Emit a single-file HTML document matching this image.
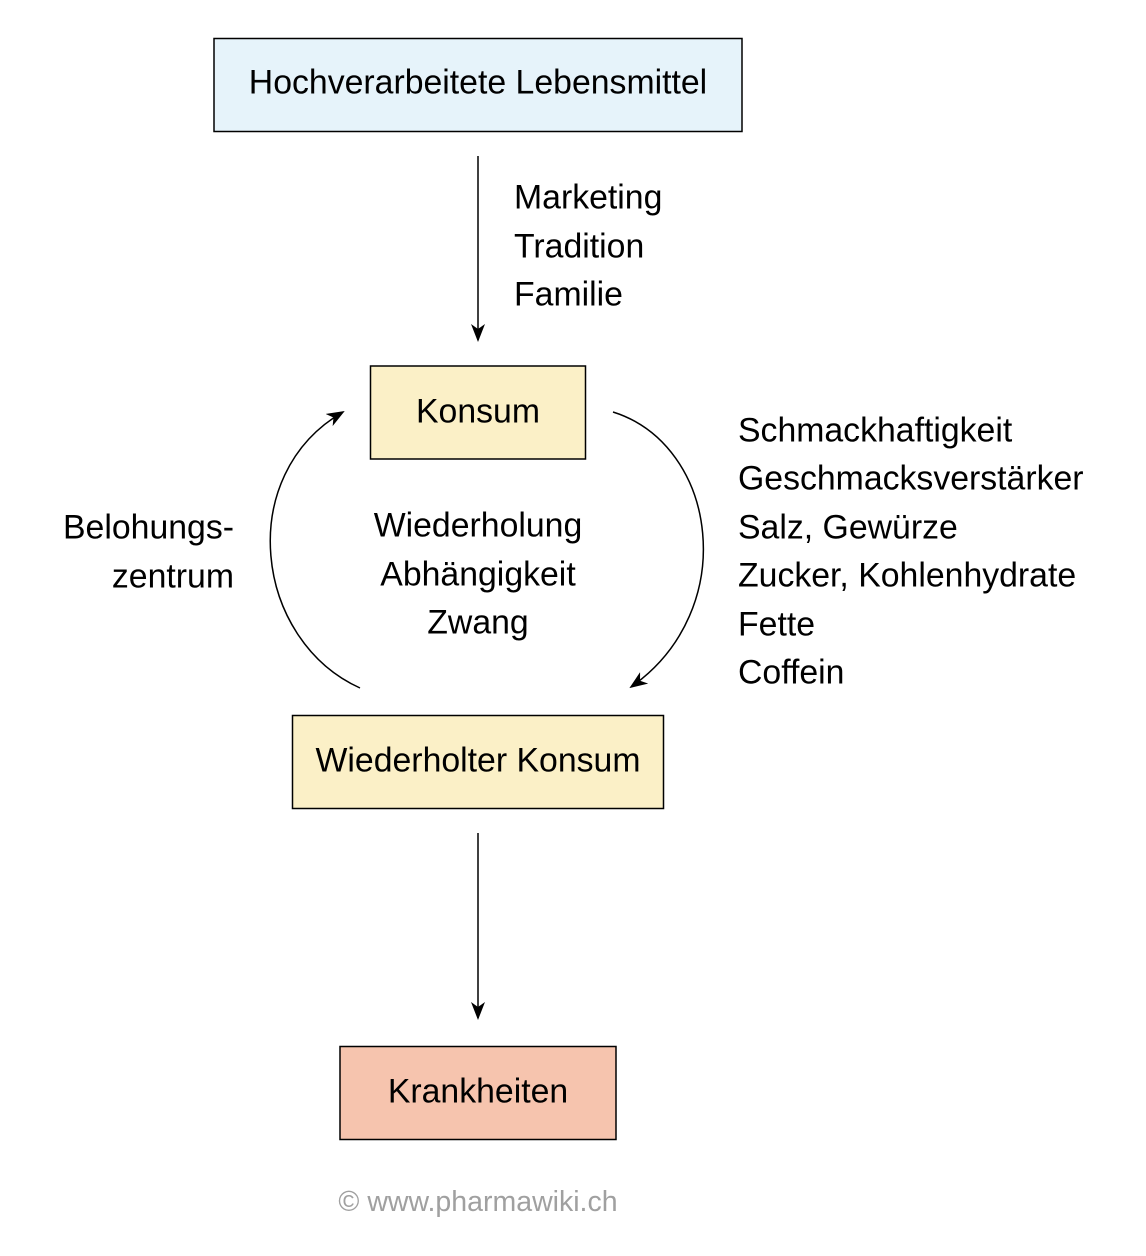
<!DOCTYPE html>
<html><head><meta charset="utf-8"><style>
html,body{margin:0;padding:0;background:#fff;}
svg{display:block;font-family:"Liberation Sans",Arial,sans-serif;}
</style></head><body>
<svg width="1146" height="1256" viewBox="0 0 1146 1256" xmlns="http://www.w3.org/2000/svg">
<defs>
<marker id="a" markerWidth="18" markerHeight="14" refX="16" refY="7" orient="auto" markerUnits="userSpaceOnUse">
<path d="M0,0 L18,7 L0,14 L5,7 Z" fill="#000"/>
</marker>
</defs>
<g font-size="33.8">
<rect x="214" y="38.5" width="528" height="93" fill="#e6f3fa" stroke="#000" stroke-width="1.5"/>
<text x="478" y="93.5" text-anchor="middle">Hochverarbeitete Lebensmittel</text>

<line x1="478" y1="156" x2="478" y2="340" stroke="#000" stroke-width="1.5" marker-end="url(#a)"/>
<text x="514"><tspan x="514" y="208.5">Marketing</tspan><tspan x="514" y="257.5">Tradition</tspan><tspan x="514" y="305.5">Familie</tspan></text>

<rect x="370.5" y="366" width="215" height="93" fill="#fbf0c7" stroke="#000" stroke-width="1.5"/>
<text x="478" y="422.5" text-anchor="middle">Konsum</text>

<path d="M613,412 C718,445 741,610 631,687" fill="none" stroke="#000" stroke-width="1.5" marker-end="url(#a)"/>
<path d="M360,688 C254,640 234,475 343,412" fill="none" stroke="#000" stroke-width="1.5" marker-end="url(#a)"/>

<text text-anchor="middle"><tspan x="478" y="536.5">Wiederholung</tspan><tspan x="478" y="585.5">Abhängigkeit</tspan><tspan x="478" y="633.5">Zwang</tspan></text>
<text text-anchor="end"><tspan x="234" y="538.5">Belohungs-</tspan><tspan x="234" y="587.5">zentrum</tspan></text>
<text><tspan x="738" y="441.5">Schmackhaftigkeit</tspan><tspan x="738" y="489.5">Geschmacksverstärker</tspan><tspan x="738" y="538.5">Salz, Gewürze</tspan><tspan x="738" y="586.5">Zucker, Kohlenhydrate</tspan><tspan x="738" y="635.5">Fette</tspan><tspan x="738" y="683.5">Coffein</tspan></text>

<rect x="292.5" y="715.5" width="371" height="93" fill="#fbf0c7" stroke="#000" stroke-width="1.5"/>
<text x="478" y="771.5" text-anchor="middle">Wiederholter Konsum</text>

<line x1="478" y1="833" x2="478" y2="1018" stroke="#000" stroke-width="1.5" marker-end="url(#a)"/>

<rect x="340" y="1046.5" width="276" height="93" fill="#f6c4ae" stroke="#000" stroke-width="1.5"/>
<text x="478" y="1102.5" text-anchor="middle">Krankheiten</text>
</g>
<text x="478" y="1211" font-size="28.5" fill="#a0a0a0" text-anchor="middle">© www.pharmawiki.ch</text>
</svg>
</body></html>
